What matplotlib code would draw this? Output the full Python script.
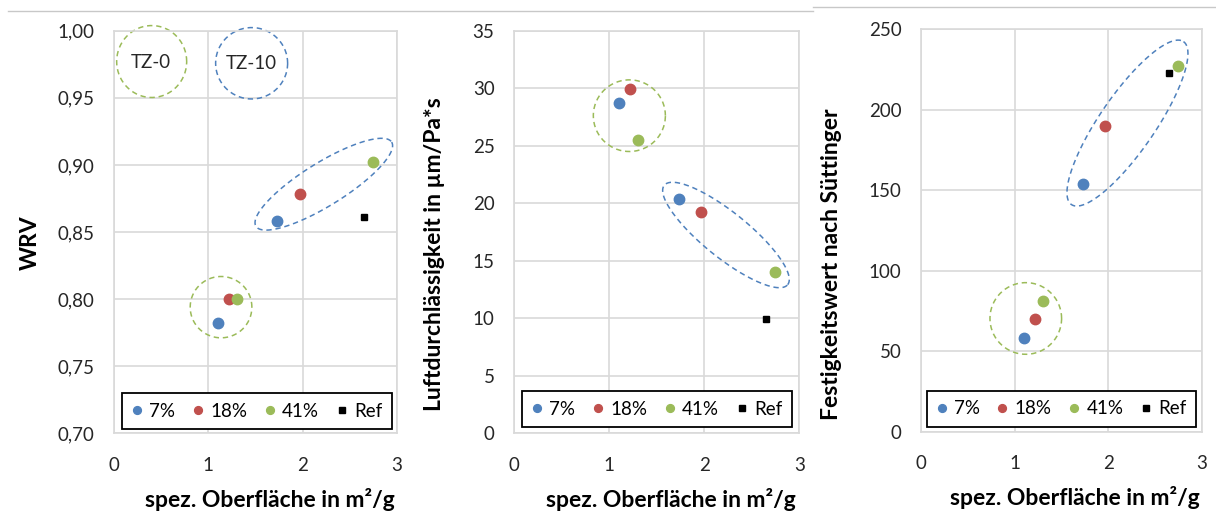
import numpy as np
import matplotlib
matplotlib.use('Agg')
import matplotlib.pyplot as plt
from matplotlib.lines import Line2D

plt.rcParams['font.family'] = ['Lato', 'DejaVu Sans']

# spez. Oberflaeche in m2/g, first value TZ-0, second value TZ-10
surface_7 = [1.10, 1.733]
surface_18 = [1.215, 1.971]
surface_41 = [1.307, 2.745]
surface_ref = [2.65]

wrv_7 = [0.782, 0.858]
wrv_18 = [0.800, 0.878]
wrv_41 = [0.800, 0.902]
wrv_ref = [0.861]

luft_7 = [28.7, 20.4]
luft_18 = [29.9, 19.2]
luft_41 = [25.5, 14.0]
luft_ref = [9.9]

fest_7 = [58, 154]
fest_18 = [70, 190]
fest_41 = [81, 227]
fest_ref = [223]

labels = ['7%', '18%', '41%', 'Ref']
colors = ['#4F81BD', '#C0504D', '#9BBB59', 'black']
GREEN = '#9BBB59'
BLUE = '#4F81BD'
GRID = '#D9D9D9'


def dashed_ellipse(ax, center, major, minor, color, clip=True):
    # major / minor are the two semi-axis vectors in data units
    t = np.linspace(0, 2 * np.pi, 200)
    x = center[0] + major[0] * np.cos(t) + minor[0] * np.sin(t)
    y = center[1] + major[1] * np.cos(t) + minor[1] * np.sin(t)
    ax.plot(x, y, color=color, linestyle=(0, (3.5, 2.5)), linewidth=1.1,
            clip_on=clip, zorder=2)


def setup(ax, ylim, yticks, ticklabels, ylabel, ylab_x, ylab_y):
    ax.set_xlim(0, 3)
    ax.set_ylim(*ylim)
    ax.set_xticks([0, 1, 2, 3])
    ax.set_yticks(yticks)
    ax.set_yticklabels(ticklabels)
    ax.grid(True, color=GRID, linewidth=1.2)
    ax.set_axisbelow(True)
    for s in ax.spines.values():
        s.set_color(GRID)
        s.set_linewidth(1.2)
    ax.tick_params(length=0, labelsize=13.5, colors='#262626', pad=14)
    ax.tick_params(axis='x', pad=17)
    ax.set_xlabel('spez. Oberfläche in m²/g', fontsize=16.5, fontweight='bold')
    ax.xaxis.set_label_coords(0.55, -0.135)
    ax.set_ylabel(ylabel, fontsize=16.5, fontweight='bold')
    ax.yaxis.set_label_coords(ylab_x, ylab_y)


def points(ax, values):
    xs = [surface_7, surface_18, surface_41, surface_ref]
    for i, (x, y) in enumerate(zip(xs, values)):
        if labels[i] == 'Ref':
            ax.plot(x, y, linestyle='none', marker='s', markersize=5,
                    color='black', label=labels[i], zorder=3)
        else:
            ax.plot(x, y, linestyle='none', marker='o', markersize=7.5,
                    color=colors[i], label=labels[i], zorder=3)


def legend(ax, xc, yb):
    leg = ax.legend(loc='lower center', bbox_to_anchor=(xc, yb), ncol=4,
                    fontsize=13.5, frameon=True, fancybox=False,
                    handlelength=0.6, handletextpad=0.36, columnspacing=0.9,
                    borderpad=0.5, borderaxespad=0, markerscale=0.75)
    leg.get_frame().set_edgecolor('black')
    leg.get_frame().set_linewidth(1.3)
    leg.get_frame().set_alpha(1)


fig = plt.figure(figsize=(12.16, 5.11), dpi=100)
ax1 = fig.add_axes([0.094, 0.152, 0.2322, 0.788])
ax2 = fig.add_axes([0.4227, 0.152, 0.2346, 0.788])
ax3 = fig.add_axes([0.7574, 0.1552, 0.2308, 0.788])

# WRV
setup(ax1, (0.70, 1.00), np.arange(0.70, 1.001, 0.05),
      ['0,70', '0,75', '0,80', '0,85', '0,90', '0,95', '1,00'],
      'WRV', -0.26, 0.473)
points(ax1, [wrv_7, wrv_18, wrv_41, wrv_ref])
dashed_ellipse(ax1, (0.397, 0.977), (0.372, 0), (0, 0.0268), GREEN, clip=False)
dashed_ellipse(ax1, (1.459, 0.9757), (0.3826, 0), (0, 0.0266), BLUE, clip=False)
dashed_ellipse(ax1, (1.134, 0.794), (0.3277, 0), (0, 0.02285), GREEN)
dashed_ellipse(ax1, (2.226, 0.8856), (0.721, 0.03137), (0.1207, -0.01364), BLUE)
ax1.text(0.39, 0.9765, 'TZ-0', ha='center', va='center', fontsize=13.5,
         color='#262626')
ax1.text(1.455, 0.9755, 'TZ-10', ha='center', va='center', fontsize=13.5,
         color='#262626')
legend(ax1, 0.505, 0.011)

# Luftdurchlaessigkeit
setup(ax2, (0, 35), np.arange(0, 36, 5),
      [str(v) for v in range(0, 36, 5)],
      'Luftdurchlässigkeit in µm/Pa*s', -0.242, 0.444)
points(ax2, [luft_7, luft_18, luft_41, luft_ref])
dashed_ellipse(ax2, (1.213, 27.61), (0.379, 0), (0, 3.115), GREEN)
dashed_ellipse(ax2, (2.229, 17.24), (0.649, -4.32), (0.149, 1.53), BLUE)
legend(ax2, 0.501, 0.016)

# Festigkeitswert
setup(ax3, (0, 250), np.arange(0, 251, 50),
      [str(v) for v in range(0, 251, 50)],
      'Festigkeitswert nach Süttinger', -0.281, 0.416)
points(ax3, [fest_7, fest_18, fest_41, fest_ref])
dashed_ellipse(ax3, (1.120, 70.3), (0.383, 0), (0, 22.25), GREEN)
dashed_ellipse(ax3, (2.207, 191.6), (0.599, 50.6), (0.244, -9.75), BLUE)
legend(ax3, 0.5, 0.012)

# thin frame lines at the top of the screenshot
fig.add_artist(Line2D([8 / 1216, 813 / 1216], [1 - 10.7 / 511] * 2,
                      color='#C8C8C8', linewidth=1))
fig.add_artist(Line2D([813 / 1216, 1], [1 - 7.3 / 511] * 2,
                      color='#C8C8C8', linewidth=1))

fig.savefig('out.png', dpi=100, facecolor='white')
